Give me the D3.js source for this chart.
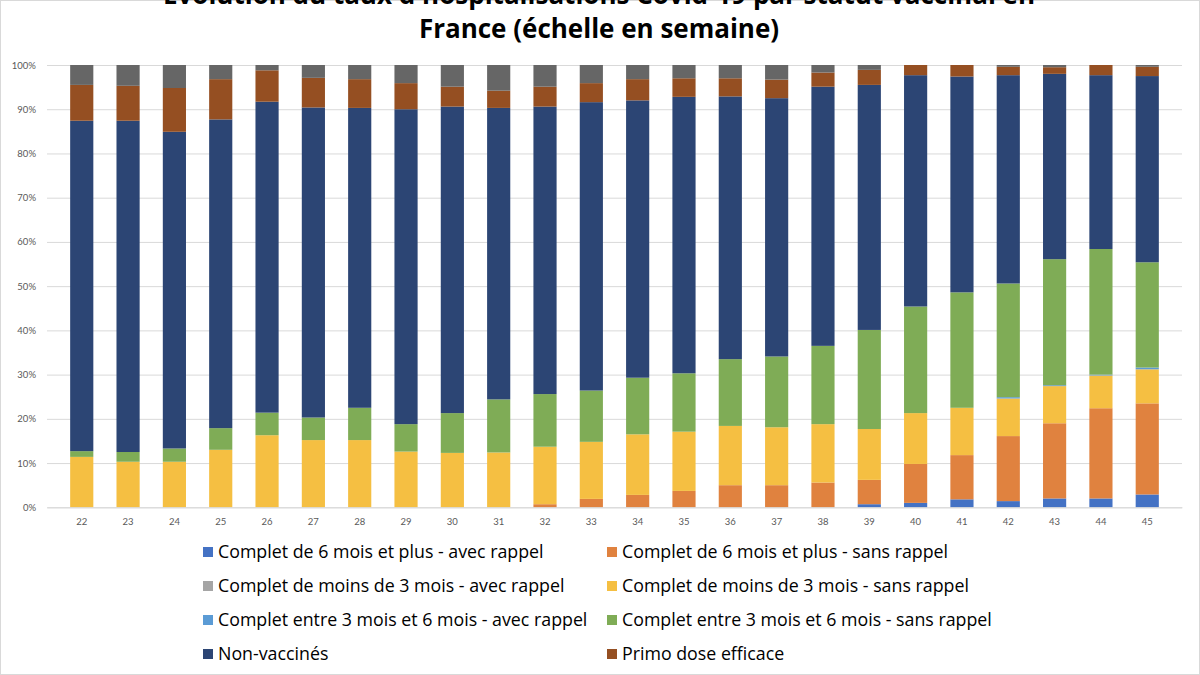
<!DOCTYPE html>
<html>
<head>
  <meta charset="utf-8">
  <style>
    body { margin: 0; background: #fff; }
    svg { display: block; font-family: "Open Sans", Lato, sans-serif; }
  </style>
</head>
<body>
  <svg width="1200" height="675"></svg>
  <script src="https://cdn.jsdelivr.net/npm/d3@7"></script>
  <script>
    // semaines
    const weeks = ["22","23","24","25","26","27","28","29","30","31","32","33","34","35","36","37","38","39","40","41","42","43","44","45"];

    // parts en % (bas -> haut)
    const complet6PlusAvec   = [0,0,0,0,0,0,0,0,0,0,0,0,0,0,0,0,0,0.7,1.0,1.8,1.4,2.0,2.0,2.9];
    const complet6PlusSans   = [0,0,0,0,0,0,0,0,0,0,0.7,1.9,2.8,3.7,5.0,5.0,5.6,5.5,8.8,10.0,14.7,17.0,20.4,20.6];
    const moins3Avec         = [0,0,0,0,0,0,0,0,0,0,0,0,0,0,0,0,0,0,0,0,0,0,0,0];
    const moins3Sans         = [11.4,10.3,10.3,13.0,16.3,15.2,15.2,12.6,12.3,12.4,13.0,12.9,13.7,13.4,13.4,13.1,13.2,11.5,11.5,10.7,8.5,8.4,7.4,7.7];
    const entre3et6Avec      = [0,0,0,0,0,0,0,0,0,0,0,0,0,0,0,0,0,0,0,0,0.3,0.2,0.2,0.4];
    const entre3et6Sans      = [1.3,2.2,3.0,4.9,5.1,5.1,7.3,6.2,9.0,12.0,11.9,11.6,12.8,13.2,15.1,16.0,17.7,22.4,24.1,26.1,25.7,28.5,28.4,23.8];
    const nonVaccines        = [74.7,74.9,71.6,69.8,70.3,70.1,67.8,71.2,69.3,65.9,65.0,65.2,62.7,62.5,59.4,58.4,58.6,55.4,52.3,48.8,47.1,41.9,39.3,42.1];
    const primoDose          = [8.1,7.9,9.9,9.1,7.1,6.7,6.5,5.9,4.5,3.9,4.5,4.3,4.8,4.2,4.1,4.2,3.2,3.4,2.3,2.6,1.9,1.5,2.3,2.1];
    // série grise du haut, absente de la légende
    const autre              = [4.5,4.7,5.2,3.2,1.2,2.9,3.2,4.1,4.9,5.8,4.9,4.1,3.2,3.0,3.0,3.3,1.7,1.1,0,0,0.4,0.5,0,0.4];

    const yTicks = [0, 0.1, 0.2, 0.3, 0.4, 0.5, 0.6, 0.7, 0.8, 0.9, 1];

    const series = [
      { key: "a6", name: "Complet de 6 mois et plus - avec rappel", values: complet6PlusAvec, color: "#4472C4", legend: true },
      { key: "s6", name: "Complet de 6 mois et plus - sans rappel", values: complet6PlusSans, color: "#E0823F", legend: true },
      { key: "a3", name: "Complet de moins de 3 mois - avec rappel", values: moins3Avec, color: "#A5A5A5", legend: true },
      { key: "s3", name: "Complet de moins de 3 mois - sans rappel", values: moins3Sans, color: "#F5BF42", legend: true },
      { key: "a36", name: "Complet entre 3 mois et 6 mois - avec rappel", values: entre3et6Avec, color: "#5B9BD5", legend: true },
      { key: "s36", name: "Complet entre 3 mois et 6 mois - sans rappel", values: entre3et6Sans, color: "#7FAC56", legend: true },
      { key: "nv", name: "Non-vaccinés", values: nonVaccines, color: "#2C4574", legend: true },
      { key: "pd", name: "Primo dose efficace", values: primoDose, color: "#954F22", legend: true },
      { key: "au", name: "", values: autre, color: "#666666", legend: false }
    ];

    const rows = weeks.map((w, i) => {
      const r = { week: w };
      series.forEach(s => r[s.key] = s.values[i]);
      return r;
    });

    const stacked = d3.stack()
      .keys(series.map(s => s.key))
      .offset(d3.stackOffsetExpand)(rows);

    const width = 1200, height = 675;
    const margin = { top: 65, right: 18, bottom: 168, left: 47 };

    const svg = d3.select("svg").attr("viewBox", [0, 0, width, height]);

    svg.append("rect")
      .attr("x", 0.5).attr("y", 0.5)
      .attr("width", width - 1).attr("height", height - 1)
      .attr("fill", "none").attr("stroke", "#d9d9d9");

    const x = d3.scaleBand()
      .domain(weeks)
      .range([margin.left, width - margin.right])
      .padding(0.5);

    const y = d3.scaleLinear()
      .domain([0, 1])
      .range([height - margin.bottom + 0.3, margin.top]);

    // grille
    const grid = svg.append("g")
      .attr("transform", `translate(${margin.left},0)`)
      .call(d3.axisLeft(y).tickValues(yTicks).tickSize(-(width - margin.right - margin.left)).tickFormat(""));
    grid.select(".domain").remove();
    grid.selectAll("line").attr("stroke", "#d9d9d9").attr("stroke-width", 1);

    // barres
    svg.append("g")
      .selectAll("g")
      .data(stacked)
      .join("g")
      .attr("fill", (d, i) => series[i].color)
      .selectAll("rect")
      .data(d => d)
      .join("rect")
      .attr("x", d => x(d.data.week))
      .attr("y", d => y(d[1]))
      .attr("height", d => Math.max(0, y(d[0]) - y(d[1])))
      .attr("width", x.bandwidth());

    // axe y
    const yAxis = svg.append("g")
      .attr("transform", `translate(${margin.left},0)`)
      .call(d3.axisLeft(y).tickValues(yTicks).tickSize(0).tickPadding(11).tickFormat(d3.format(".0%")));
    yAxis.select(".domain").remove();
    yAxis.selectAll("text")
      .attr("fill", "#595959")
      .attr("font-size", "9.5px")
      .attr("font-family", "Lato, sans-serif");

    // axe x
    const xAxis = svg.append("g")
      .attr("transform", `translate(0,${y(0)})`)
      .call(d3.axisBottom(x).tickSize(0).tickPadding(11));
    xAxis.select(".domain").attr("stroke", "#d9d9d9");
    xAxis.selectAll("text")
      .attr("fill", "#595959")
      .attr("font-size", "9.5px")
      .attr("font-family", "Lato, sans-serif");

    // titre
    const title = svg.append("g")
      .attr("font-weight", "bold")
      .attr("font-size", "26px")
      .attr("fill", "#000")
      .attr("text-anchor", "middle");
    title.append("text").attr("x", 599).attr("y", 4)
      .text("Évolution du taux d'hospitalisations Covid-19 par statut vaccinal en");
    title.append("text").attr("x", 599).attr("y", 38)
      .text("France (échelle en semaine)");

    // légende
    const legendItems = series.filter(s => s.legend);
    const legend = svg.append("g")
      .attr("font-size", "17.8px")
      .attr("fill", "#000");
    const lg = legend.selectAll("g")
      .data(legendItems)
      .join("g")
      .attr("transform", (d, i) => `translate(${i % 2 === 0 ? 203 : 607},${552 + Math.floor(i / 2) * 34})`);
    lg.append("rect")
      .attr("x", 0).attr("y", -5)
      .attr("width", 10).attr("height", 10)
      .attr("fill", d => d.color);
    lg.append("text")
      .attr("x", 15)
      .attr("y", 6)
      .text(d => d.name);
  </script>
</body>
</html>
